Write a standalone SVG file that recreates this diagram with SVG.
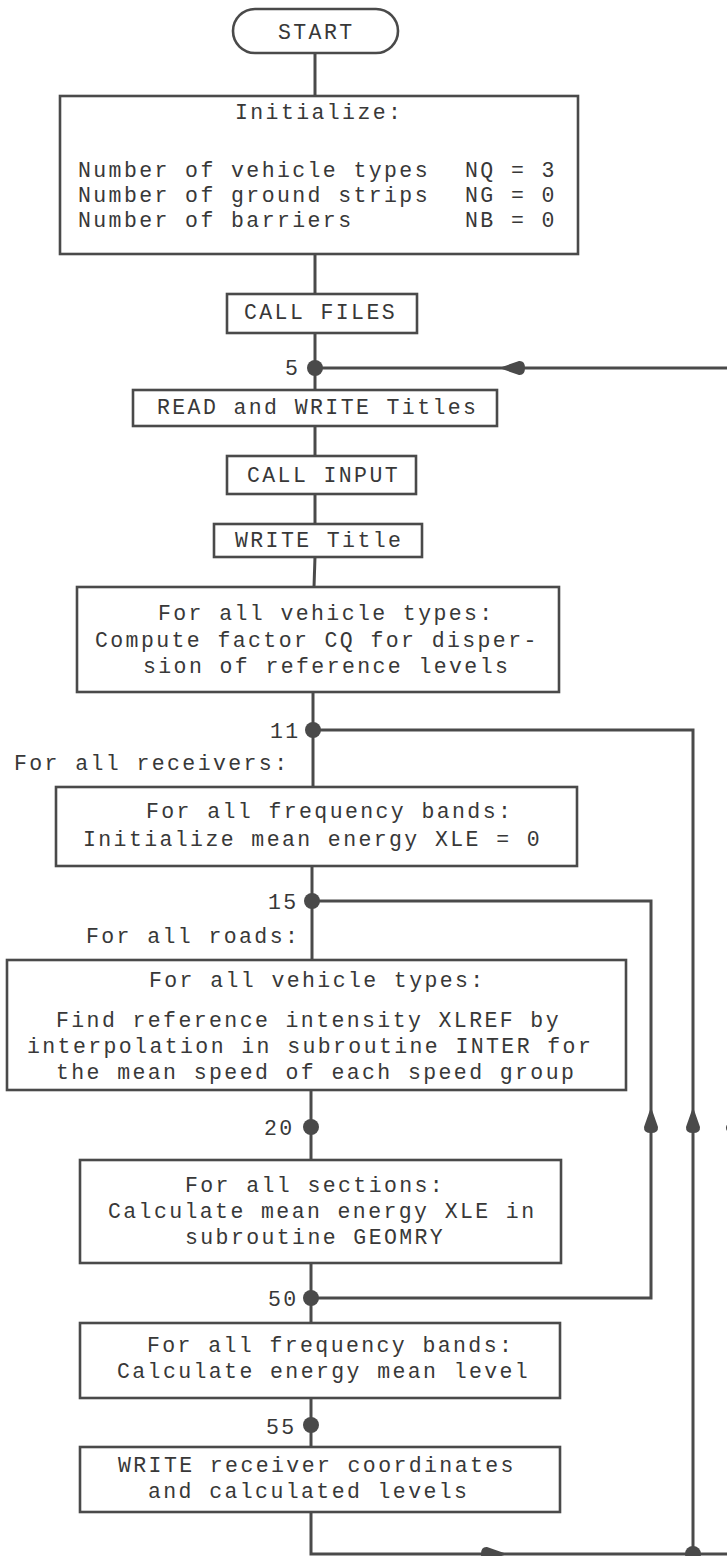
<svg xmlns="http://www.w3.org/2000/svg" xmlns:xlink="http://www.w3.org/1999/xlink" width="727" height="1556" viewBox="0 0 727 1556">
<style>
  .box { fill: #ffffff; stroke: #4a4a4a; stroke-width: 2.6; }
  .ln { fill: none; stroke: #4a4a4a; stroke-width: 3; stroke-linejoin: miter; }
  .dot { fill: #4a4a4a; }
  .ah { fill: #4a4a4a; }
  text { font-family: "Liberation Mono", "Courier New", monospace; font-size: 21.5px; letter-spacing: 2.4px; fill: #383838; }
</style>
<defs>
  <path id="arrow" d="M0,0 L-7,20 Q-7.5,26 0,26 Q7.5,26 7,20 Z"/>
</defs>
<rect width="727" height="1556" fill="#ffffff"/>

<g id="connectors">
  <line class="ln" x1="315" y1="53" x2="315" y2="96"/>
  <line class="ln" x1="315" y1="254" x2="315" y2="294"/>
  <line class="ln" x1="315" y1="333" x2="315" y2="390"/>
  <line class="ln" x1="315" y1="426" x2="315" y2="456"/>
  <line class="ln" x1="315" y1="494" x2="315" y2="524"/>
  <line class="ln" x1="315" y1="557" x2="314" y2="587"/>
  <line class="ln" x1="313" y1="692" x2="313" y2="787"/>
  <line class="ln" x1="312" y1="866" x2="312" y2="960"/>
  <line class="ln" x1="311" y1="1090" x2="311" y2="1160"/>
  <line class="ln" x1="311" y1="1263" x2="311" y2="1323"/>
  <line class="ln" x1="311" y1="1398" x2="311" y2="1447"/>
  <!-- outer loop back to 5 -->
  <path class="ln" d="M311,1512 L311,1554 L733,1554 L733,368 L315,368"/>
  <!-- loop back to 11 -->
  <path class="ln" d="M693,1554 L693,730 L313,730"/>
  <!-- loop back to 15 -->
  <path class="ln" d="M311,1298 L651,1298 L651,901 L312,901"/>
  <use xlink:href="#arrow" class="ah" transform="translate(499,368) rotate(-90)"/>
  <use xlink:href="#arrow" class="ah" transform="translate(507,1554) rotate(90)"/>
  <use xlink:href="#arrow" class="ah" transform="translate(651,1107)"/>
  <use xlink:href="#arrow" class="ah" transform="translate(693,1107)"/>
  <use xlink:href="#arrow" class="ah" transform="translate(733,1107)"/>
  <circle class="dot" cx="315" cy="368" r="8"/>
  <circle class="dot" cx="313" cy="730" r="8"/>
  <circle class="dot" cx="312" cy="901" r="8"/>
  <circle class="dot" cx="311" cy="1127" r="8"/>
  <circle class="dot" cx="311" cy="1298" r="8"/>
  <circle class="dot" cx="311" cy="1425" r="8"/>
  <circle class="dot" cx="693" cy="1554" r="8"/>
  <text x="285" y="375">5</text>
  <text x="270" y="738">11</text>
  <text x="268" y="909">15</text>
  <text x="264" y="1135">20</text>
  <text x="268" y="1306">50</text>
  <text x="266" y="1434">55</text>
  <text x="14" y="770">For all receivers:</text>
  <text x="86" y="943">For all roads:</text>
</g>

<g id="start">
  <rect class="box" x="233" y="9" width="165" height="44" rx="22" ry="22"/>
  <text x="278" y="39">START</text>
</g>

<g id="initialize">
  <rect class="box" x="60" y="96" width="518" height="158"/>
  <text x="235" y="119">Initialize:</text>
  <text x="78" y="177">Number of vehicle types</text>
  <text x="78" y="202">Number of ground strips</text>
  <text x="78" y="227">Number of barriers</text>
  <text x="465" y="177">NQ = 3</text>
  <text x="465" y="202">NG = 0</text>
  <text x="465" y="227">NB = 0</text>
</g>

<g id="call-files">
  <rect class="box" x="227" y="294" width="190" height="39"/>
  <text x="244" y="319">CALL FILES</text>
</g>

<g id="read-write-titles">
  <rect class="box" x="133" y="390" width="364" height="36"/>
  <text x="157" y="414">READ and WRITE Titles</text>
</g>

<g id="call-input">
  <rect class="box" x="227" y="456" width="189" height="38"/>
  <text x="247" y="482">CALL INPUT</text>
</g>

<g id="write-title">
  <rect class="box" x="214" y="524" width="208" height="33"/>
  <text x="235" y="547">WRITE Title</text>
</g>

<g id="compute-cq">
  <rect class="box" x="77" y="587" width="482" height="105"/>
  <text x="158" y="620">For all vehicle types:</text>
  <text x="95" y="647">Compute factor CQ for disper-</text>
  <text x="143" y="673">sion of reference levels</text>
</g>

<g id="init-xle">
  <rect class="box" x="56" y="787" width="521" height="79"/>
  <text x="146" y="818">For all frequency bands:</text>
  <text x="83" y="846">Initialize mean energy XLE = 0</text>
</g>

<g id="find-xlref">
  <rect class="box" x="7" y="960" width="619" height="130"/>
  <text x="149" y="987">For all vehicle types:</text>
  <text x="56" y="1027">Find reference intensity XLREF by</text>
  <text x="27" y="1053">interpolation in subroutine INTER for</text>
  <text x="56" y="1079">the mean speed of each speed group</text>
</g>

<g id="geomry">
  <rect class="box" x="80" y="1160" width="481" height="103"/>
  <text x="185" y="1192">For all sections:</text>
  <text x="108" y="1218">Calculate mean energy XLE in</text>
  <text x="185" y="1244">subroutine GEOMRY</text>
</g>

<g id="mean-level">
  <rect class="box" x="80" y="1323" width="480" height="75"/>
  <text x="147" y="1352">For all frequency bands:</text>
  <text x="117" y="1378">Calculate energy mean level</text>
</g>

<g id="write-levels">
  <rect class="box" x="80" y="1447" width="480" height="65"/>
  <text x="118" y="1472">WRITE receiver coordinates</text>
  <text x="148" y="1498">and calculated levels</text>
</g>
</svg>
